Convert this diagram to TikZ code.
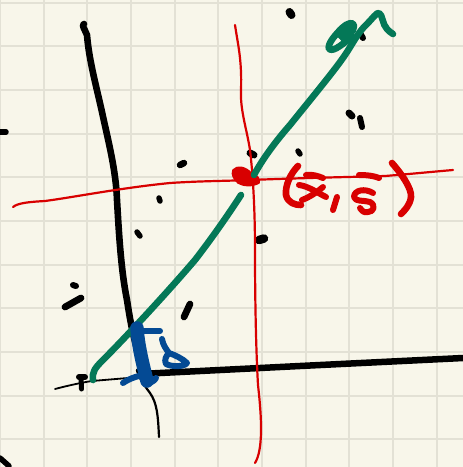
\documentclass[tikz,border=0pt]{standalone}
\definecolor{paper}{HTML}{F8F6EA}
\definecolor{gridc}{HTML}{E3E1D5}
\definecolor{ink}{HTML}{000000}
\definecolor{redink}{HTML}{D80000}
\definecolor{greenink}{HTML}{047857}
\definecolor{blueink}{HTML}{044A94}
\tikzset{
  pen/.style={line cap=round,line join=round},
  gridline/.style={draw=gridc,line width=2pt},
  blk/.style={pen,draw=ink},
  rd/.style={pen,draw=redink},
  grn/.style={pen,draw=greenink,line width=6.6pt},
  blu/.style={pen,draw=blueink},
}
\begin{document}
\begin{tikzpicture}[x=1pt,y=-1pt]
\useasboundingbox (0,0) rectangle (463,467);
\fill[paper] (0,0) rectangle (463,467);
\clip (0,0) rectangle (463,467);
% grid
\foreach \g in {0,43.7,87.4,131,174.8,218.4,262,305.7,349.4,393,436.6}
  \draw[gridline] (\g,0) -- (\g,467);
\foreach \g in {2.5,46.2,90,133.6,177.4,221,264.8,308.4,352,395.8,439.4}
  \draw[gridline] (0,\g) -- (463,\g);
% black axis (curve f)
\draw[blk,line width=6.6pt] (84,24) .. controls (81,24) and (85,30) .. (87,35) .. controls (89,60) and (96,85) .. (102,112) .. controls (108,140) and (116,170) .. (117,200) .. controls (119,235) and (121,270) .. (127,300) .. controls (130,320) and (133,335) .. (136,345);
\draw[blk,line width=2.2pt] (137,370) .. controls (139,378) and (144,385) .. (150,393) .. controls (157,403) and (158,415) .. (159,437);
% black horizontal axis
\draw[blk,line width=1.8pt] (55,389) .. controls (70,385) and (85,382) .. (92,381) -- (140,377);
\draw[blk,line width=6.5pt,line cap=butt] (150,373.5) -- (300,366) -- (463,358);
% black marks
\draw[blk,line width=5.5pt] (0,132) -- (6,132);
\draw[blk,line width=8pt] (289.5,12) -- (291.5,15);
\draw[blk,line width=6pt] (360,33) -- (363,38);
\draw[blk,line width=7pt] (349,113) -- (352,116);
\draw[blk,line width=6pt] (360,118) -- (362,127);
\draw[blk,line width=6.5pt] (180,165) -- (184,163);
\draw[blk,line width=7pt] (250,153) -- (254,155);
\draw[blk,line width=5.5pt] (298,151) -- (300,154);
\draw[blk,line width=5.5pt] (159,198) -- (160,201);
\draw[blk,line width=5.5pt] (137,232) -- (140,236);
\draw[blk,line width=8.5pt] (259,240) -- (264,238.5);
\draw[blk,line width=6pt] (73,285) -- (76,286);
\draw[blk,line width=6.8pt] (65,307) -- (81,298);
\draw[blk,line width=6.8pt] (184,317) -- (190,304);
\draw[blk,line width=6pt] (79,377) -- (85,377);
\draw[blk,line width=5pt] (81,377) -- (81.5,389);
\draw[blk,line width=2.4pt] (137,370) -- (139,375);
\draw[blk,line width=5.5pt] (0,458) -- (9,466);
% red lines
\draw[rd,line width=2.2pt] (13,207) .. controls (18,203) and (28,202) .. (45,201) .. controls (75,197) and (120,188) .. (170,183) .. controls (200,181) and (225,181) .. (250,180) .. controls (300,178) and (350,177) .. (385,176) .. controls (410,174) and (430,172) .. (453,170);
\draw[rd,line width=2.2pt] (235,25) .. controls (238,45) and (242,60) .. (241,90) .. controls (240,110) and (247,130) .. (250,150) .. controls (253,175) and (255,210) .. (255,250) .. controls (255,300) and (256,350) .. (258,385) .. controls (262,420) and (263,450) .. (255,463);
% red dot
\filldraw[redink,line width=1.5pt,line join=round] (233,170) .. controls (237,165) and (246,167) .. (251,173) .. controls (257,175) and (261,179) .. (259,183) .. controls (252,187) and (243,186) .. (238,183) .. controls (234,179) and (231,175) .. (233,170) -- cycle;
% green curve
\draw[grn] (93,380) .. controls (92,372) and (95,368) .. (102,361) .. controls (125,338) and (165,295) .. (195,260) .. controls (212,238) and (228,215) .. (241,195);
\draw[grn] (254,175) .. controls (262,160) and (275,142) .. (290,125) .. controls (310,100) and (335,70) .. (345,55) .. controls (352,45) and (358,32) .. (367,24) .. controls (372,19) and (377,12) .. (379,13) .. controls (383,15) and (382,24) .. (387,29) .. controls (389,31) and (391,33) .. (393,34);
\draw[grn] (353,37) .. controls (345,41) and (334,53) .. (329,49) .. controls (327,44) and (336,34) .. (342,28) .. controls (347,23) and (354,21) .. (354,26) .. controls (354,32) and (348,36) .. (343,38);
\draw[grn] (340,30) -- (352,28);
\draw[grn] (341,36) -- (349,33);
% red label
\draw[rd,line width=6.6pt] (298,166) .. controls (291,173) and (285,185) .. (286,195) .. controls (288,203) and (295,205) .. (301,205);
\draw[rd,line width=6pt] (306,175) .. controls (312,174) and (318,176) .. (323,178);
\draw[rd,line width=6pt] (299,185) .. controls (308,186) and (318,193) .. (326,197);
\draw[rd,line width=6pt] (302,200) .. controls (310,197) and (317,192) .. (323,187);
\draw[rd,line width=6pt] (337,197) -- (333,210);
\draw[rd,line width=6pt] (359,175) .. controls (362,175) and (372,175) .. (379,178);
\draw[rd,line width=6pt] (373,193) .. controls (365,188) and (354,190) .. (354,197) .. controls (355,202) and (364,200) .. (370,202) .. controls (376,205) and (374,212) .. (368,212) .. controls (364,213) and (362,211) .. (360,208);
\draw[rd,line width=6.6pt] (392,163) .. controls (400,172) and (412,188) .. (411,197) .. controls (410,205) and (405,210) .. (401,214);
% blue
\draw[blu,line width=6pt] (134,331) -- (160,331);
\draw[blu,line width=13.5pt] (137,328) .. controls (138,345) and (143,365) .. (147,381);
\draw[blu,line width=6pt] (123,383) .. controls (130,378) and (140,375) .. (147,375);
\draw[blu,line width=6pt] (147,384) .. controls (150,382) and (154,382) .. (156,378);
\draw[blu,line width=6pt] (162,339) .. controls (163,345) and (166,349) .. (169,353) .. controls (175,355) and (183,359) .. (187,363) .. controls (184,367) and (172,367) .. (166,364) .. controls (164,360) and (166,356) .. (169,353);
\end{tikzpicture}
\end{document}
